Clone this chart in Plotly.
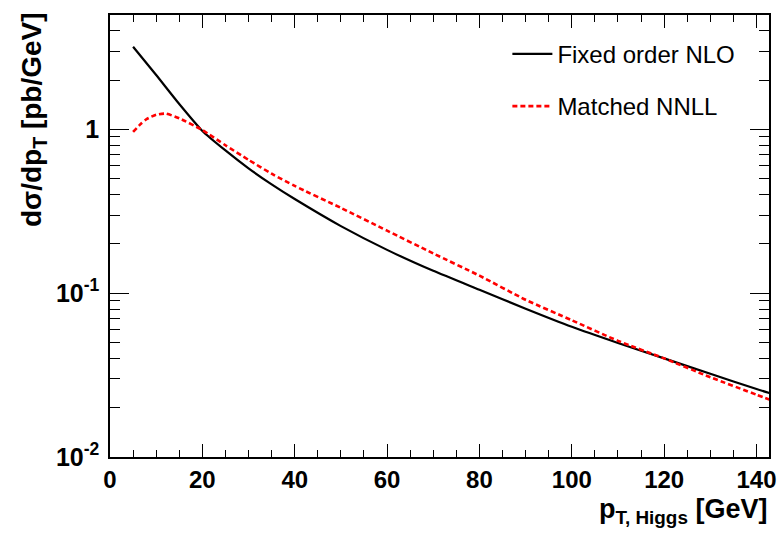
import plotly.graph_objects as go

# Data (pT in GeV, cross section in pb/GeV)
pt_nlo = [5, 10, 15, 20, 25, 30, 35, 40, 50, 60, 70, 80, 90, 100, 110, 120, 130, 140, 143]
xs_nlo = [3.20, 2.15, 1.43, 0.980, 0.745, 0.579, 0.462, 0.376, 0.257, 0.184, 0.137, 0.105,
          0.0805, 0.0624, 0.0497, 0.0400, 0.0322, 0.0260, 0.0245]

pt_nnll = [5, 6.5, 8, 10, 12, 15, 20, 25, 30, 35, 40, 50, 60, 70, 80, 90, 100, 110, 120, 130, 140, 143]
xs_nnll = [0.967, 1.07, 1.16, 1.23, 1.25, 1.17, 0.991, 0.801, 0.652, 0.537, 0.452, 0.332, 0.241,
           0.175, 0.128, 0.0912, 0.0684, 0.0512, 0.0400, 0.0307, 0.0240, 0.0223]

y_tickvals = [0.01, 0.1, 1]
y_ticktext = ["<b>10<sup>-2</sup></b>", "<b>10<sup>-1</sup></b>", "<b>1</b>"]

FONT = "Liberation Sans, Arial, Helvetica, sans-serif"

fig = go.Figure()
fig.add_trace(go.Scatter(x=pt_nlo, y=xs_nlo, mode="lines", name="Fixed order NLO",
                         line=dict(color="black", width=2.2, shape="spline", smoothing=0.6),
                         legendgroup="a"))
fig.add_trace(go.Scatter(x=pt_nnll, y=xs_nnll, mode="lines", name="Matched NNLL",
                         line=dict(color="#ff0000", width=2.6, dash="5px,3px", shape="spline", smoothing=0.6),
                         legendgroup="b"))

fig.update_layout(
    width=779, height=534,
    margin=dict(l=110, r=10, t=15, b=77),
    paper_bgcolor="white", plot_bgcolor="white",
    font=dict(family=FONT, color="black"),
    showlegend=True,
    legend=dict(x=0.603, y=0.962, xanchor="left", yanchor="top",
                bgcolor="rgba(0,0,0,0)", font=dict(size=24, family=FONT),
                tracegroupgap=18, itemwidth=40),
    xaxis=dict(range=[0, 142.7], dtick=20, tick0=0, showgrid=False, zeroline=False,
               automargin=False,
               showline=True, linecolor="black", linewidth=1.5, mirror="allticks",
               ticks="inside", ticklen=13, tickwidth=1.2, tickcolor="black",
               tickfont=dict(size=24, family=FONT, weight="bold"),
               minor=dict(dtick=5, ticks="inside", ticklen=7, tickwidth=1, tickcolor="black", showgrid=False)),
    yaxis=dict(type="log", range=[-2, 0.699], tickvals=y_tickvals, ticktext=y_ticktext,
               showgrid=False, zeroline=False, automargin=False,
               showline=True, linecolor="black", linewidth=1.5, mirror="allticks",
               ticks="inside", ticklen=19, tickwidth=1.2, tickcolor="black",
               ticklabelstandoff=4,
               tickfont=dict(size=25, family=FONT),
               minor=dict(dtick="D1", ticks="inside", ticklen=10, tickwidth=1, tickcolor="black", showgrid=False)),
    annotations=[
        dict(text="<b>p<sub>T, Higgs</sub> [GeV]</b>", xref="paper", yref="paper",
             x=1.0, y=-0.08, xanchor="right", yanchor="top", showarrow=False,
             font=dict(size=27, family=FONT)),
        dict(text="<b>dσ/dp<sub>T</sub> [pb/GeV]</b>", xref="paper", yref="paper",
             x=-0.117, y=1.012, xanchor="center", yanchor="top", textangle=-90, showarrow=False,
             font=dict(size=28, family=FONT)),
    ],
)

fig.write_html("out.html", config={"displayModeBar": False},
               post_script="document.body.style.margin='0';document.body.style.overflow='hidden';")
